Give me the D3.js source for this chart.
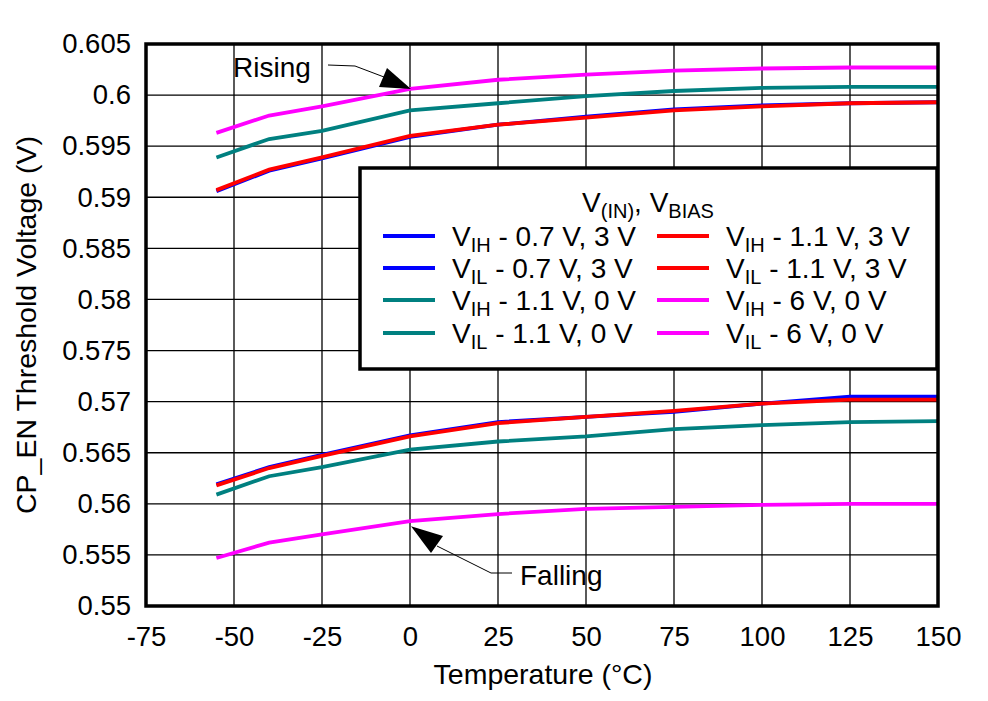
<!DOCTYPE html>
<html><head><meta charset="utf-8">
<script src="https://cdn.jsdelivr.net/npm/d3@7"></script>
<style>body{margin:0;background:#fff}text{font-family:"Liberation Sans",Arial,sans-serif;fill:#000}</style>
</head><body><svg id="c" width="988" height="701"></svg>
<script>
const temps = [-55, -40, -25, 0, 25, 50, 75, 100, 125, 150];
const vihBlue = [0.5906, 0.5926, 0.5938, 0.5959, 0.5971, 0.5979, 0.5986, 0.5990, 0.5992, 0.5993];
const vilBlue = [0.5619, 0.5636, 0.5648, 0.5667, 0.5680, 0.5685, 0.5690, 0.5698, 0.5705, 0.5705];
const vihTeal = [0.5939, 0.5957, 0.5965, 0.5985, 0.5992, 0.5999, 0.6004, 0.6007, 0.6008, 0.6008];
const vilTeal = [0.5609, 0.5627, 0.5636, 0.5653, 0.5661, 0.5666, 0.5673, 0.5677, 0.5680, 0.5681];
const vihRed = [0.5907, 0.5927, 0.5939, 0.5960, 0.5971, 0.5978, 0.5985, 0.5989, 0.5992, 0.5993];
const vilRed = [0.5618, 0.5635, 0.5647, 0.5666, 0.5679, 0.5685, 0.5691, 0.5698, 0.5702, 0.5702];
const vihMag = [0.5963, 0.5980, 0.5989, 0.6006, 0.6015, 0.6020, 0.6024, 0.6026, 0.6027, 0.6027];
const vilMag = [0.5547, 0.5562, 0.5570, 0.5583, 0.5590, 0.5595, 0.5597, 0.5599, 0.5600, 0.5600];
const xTicks = [-75, -50, -25, 0, 25, 50, 75, 100, 125, 150];
const xTickLabels = ["-75","-50","-25","0","25","50","75","100","125","150"];
const yTicks = [0.55, 0.555, 0.56, 0.565, 0.57, 0.575, 0.58, 0.585, 0.59, 0.595, 0.6, 0.605];
const yTickLabels = ["0.55","0.555","0.56","0.565","0.57","0.575","0.58","0.585","0.59","0.595","0.6","0.605"];
const series = [
  {sub:"IH", label:" - 0.7 V, 3 V", color:"#0000ff", vals:vihBlue, col:0, row:0},
  {sub:"IL", label:" - 0.7 V, 3 V", color:"#0000ff", vals:vilBlue, col:0, row:1},
  {sub:"IH", label:" - 1.1 V, 0 V", color:"#008080", vals:vihTeal, col:0, row:2},
  {sub:"IL", label:" - 1.1 V, 0 V", color:"#008080", vals:vilTeal, col:0, row:3},
  {sub:"IH", label:" - 1.1 V, 3 V", color:"#ff0000", vals:vihRed, col:1, row:0},
  {sub:"IL", label:" - 1.1 V, 3 V", color:"#ff0000", vals:vilRed, col:1, row:1},
  {sub:"IH", label:" - 6 V, 0 V", color:"#ff00ff", vals:vihMag, col:1, row:2},
  {sub:"IL", label:" - 6 V, 0 V", color:"#ff00ff", vals:vilMag, col:1, row:3}
];

const FONT = '"Liberation Sans",Arial,sans-serif';
const svg = d3.select("#c");
const L=146, R=938, T=44, B=606;
const x = d3.scaleLinear().domain([-75,150]).range([L,R]);
const y = d3.scaleLinear().domain([0.55,0.605]).range([B,T]);

// grid
const g = svg.append("g");
g.selectAll(".vx").data(xTicks).enter().append("line")
  .attr("x1",d=>x(d)).attr("x2",d=>x(d)).attr("y1",T).attr("y2",B)
  .attr("stroke","#000").attr("stroke-width",1.3);
g.selectAll(".hy").data(yTicks).enter().append("line")
  .attr("y1",d=>y(d)).attr("y2",d=>y(d)).attr("x1",L).attr("x2",R)
  .attr("stroke","#000").attr("stroke-width",1.3);

// axes labels
const xAxis = d3.axisBottom(x).tickValues(xTicks).tickSize(0).tickPadding(20).tickFormat((d,i)=>xTickLabels[i]);
const xg = svg.append("g").attr("transform",`translate(0,${B})`).call(xAxis);
xg.select(".domain").remove();
xg.selectAll("text").attr("font-size",27.5).style("font-family",FONT).attr("fill","#000");
const yAxis = d3.axisLeft(y).tickValues(yTicks).tickSize(0).tickPadding(15).tickFormat((d,i)=>yTickLabels[i]);
const yg = svg.append("g").attr("transform",`translate(${L},0)`).call(yAxis);
yg.select(".domain").remove();
yg.selectAll("text").attr("font-size",27.5).style("font-family",FONT).attr("fill","#000");

// curves
const line = d3.line().x((d,i)=>x(temps[i])).y(d=>y(d));
const drawOrder = [0,1,4,5,2,3,6,7];
drawOrder.forEach(k=>{
  const s = series[k];
  svg.append("path").datum(s.vals).attr("d",line).attr("fill","none")
    .attr("stroke",s.color).attr("stroke-width",3.8);
});

// frame
svg.append("rect").attr("x",L).attr("y",T).attr("width",R-L).attr("height",B-T)
  .attr("fill","none").attr("stroke","#000").attr("stroke-width",3.5);

// legend
const lg = svg.append("g");
lg.append("rect").attr("x",360).attr("y",168).attr("width",577).attr("height",201)
  .attr("fill","#fff").attr("stroke","#000").attr("stroke-width",3.5);
const tt = lg.append("text").attr("x",648).attr("y",212).attr("text-anchor","middle").attr("font-size",28);
tt.append("tspan").text("V");
tt.append("tspan").text("(IN)").attr("font-size",20).attr("dy",6);
tt.append("tspan").text(", V").attr("dy",-6);
tt.append("tspan").text("BIAS").attr("font-size",20).attr("dy",6);
const colX = [383, 657], rowY = [236, 268, 300, 333];
series.forEach(s=>{
  const lx = colX[s.col], ly = rowY[s.row];
  lg.append("line").attr("x1",lx).attr("x2",lx+52).attr("y1",ly).attr("y2",ly)
    .attr("stroke",s.color).attr("stroke-width",3.8);
  const t = lg.append("text").attr("x",lx+69).attr("y",ly+10).attr("font-size",28);
  t.append("tspan").text("V");
  t.append("tspan").text(s.sub).attr("font-size",20).attr("dy",6);
  t.append("tspan").text(s.label).attr("dy",-6);
});

// annotations
svg.append("text").attr("x",233).attr("y",77).attr("font-size",28).text("Rising");
svg.append("polyline").attr("points","328,65 355,66 384,77").attr("fill","none").attr("stroke","#000").attr("stroke-width",1);
svg.append("polygon").attr("points",`${x(0)+1},${y(vihMag[3])} 379,87 387,68`).attr("fill","#000");
svg.append("text").attr("x",520).attr("y",585).attr("font-size",28).text("Falling");
svg.append("polyline").attr("points","437,546 491,573 512,573").attr("fill","none").attr("stroke","#000").attr("stroke-width",1);
svg.append("polygon").attr("points",`${x(0)+1},${y(vilMag[3])+5} 443,536 431,553`).attr("fill","#000");

// axis titles
svg.append("text").attr("x",543).attr("y",684).attr("text-anchor","middle").attr("font-size",28.5).text("Temperature (°C)");
svg.append("text").attr("transform","translate(36,325) rotate(-90)").attr("text-anchor","middle").attr("font-size",28.5).text("CP_EN Threshold Voltage (V)");
</script></body></html>
